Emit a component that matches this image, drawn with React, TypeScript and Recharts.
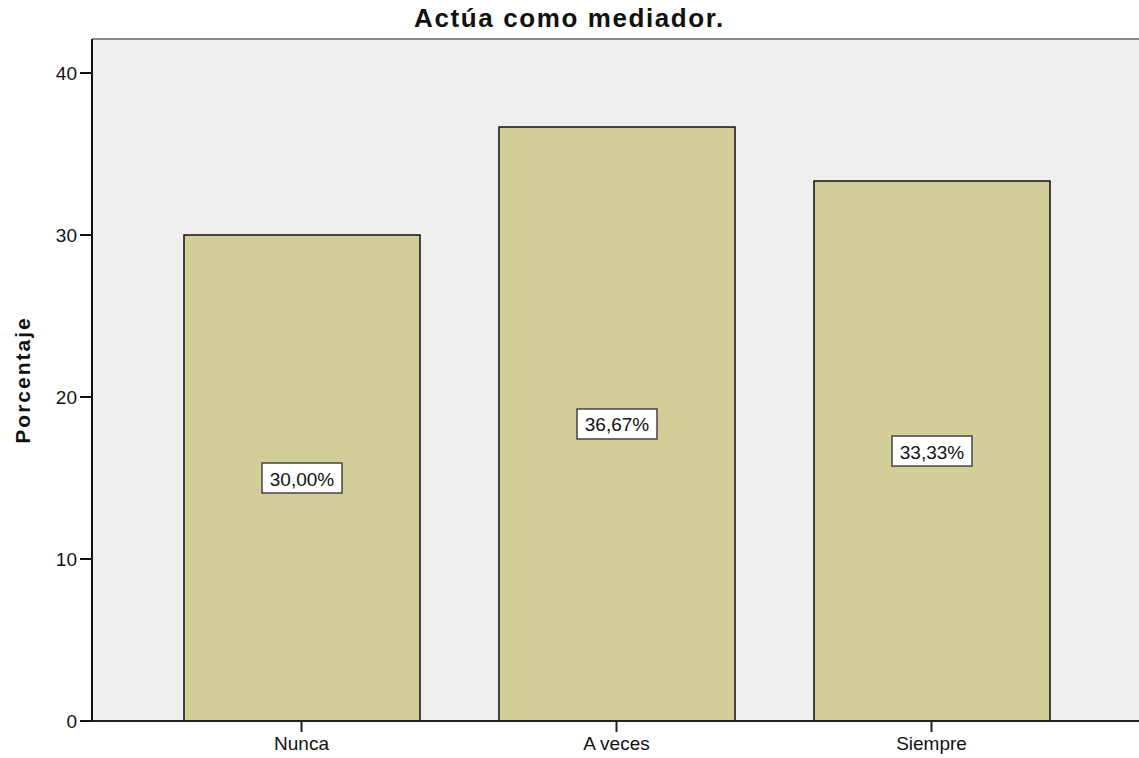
import React from 'react';
import { BarChart, Bar, XAxis, YAxis, CartesianGrid, LabelList, ReferenceLine } from 'recharts';

// Actúa como mediador. — percentages per answer
const categories = ['Nunca', 'A veces', 'Siempre'];
const percentages = [30.0, 36.67, 33.33];
const yTicks = [0, 10, 20, 30, 40];
const yMax = 42.1;

const FONT = '"Liberation Sans", Arial, sans-serif';

const data = categories.map((name, i) => ({ name, value: percentages[i] }));

const formatPct = (v: number) => v.toFixed(2).replace('.', ',') + '%';

const BoxLabel = (props: any) => {
  const vb = props.viewBox || props;
  const { x, y, width, height } = vb;
  const cx = x + width / 2;
  const cy = y + height / 2;
  const w = 80;
  const h = 30;
  return (
    <g>
      <rect x={cx - w / 2} y={cy - h / 2} width={w} height={h} fill="#fff" stroke="#444" strokeWidth={1.5} />
      <text x={cx} y={cy + 1} textAnchor="middle" dominantBaseline="central" fontSize={19} fontFamily={FONT} fill="#111">
        {formatPct(props.value)}
      </text>
    </g>
  );
};

export default function App() {
  return (
    <div style={{ position: 'absolute', left: 0, top: 0, width: 1139, height: 758, background: '#fff', fontFamily: FONT }}>
      <div
        style={{
          position: 'absolute', left: 0, top: 3, width: 1139, textAlign: 'center',
          fontSize: 26, fontWeight: 'bold', letterSpacing: 1.6, color: '#111',
        }}
      >
        Actúa como mediador.
      </div>
      <div
        style={{
          position: 'absolute', left: 23, top: 380, transform: 'translate(-50%, -50%) rotate(-90deg)',
          fontSize: 21, fontWeight: 'bold', letterSpacing: 2, color: '#111', whiteSpace: 'nowrap',
        }}
      >
        Porcentaje
      </div>
      <BarChart
        width={1139}
        height={758}
        data={data}
        margin={{ top: 39, right: 0, left: 0, bottom: 0 }}
        barSize={236}
      >
        <CartesianGrid fill="#efefef" horizontal={false} vertical={false} />
        <ReferenceLine y={yMax} stroke="#888" strokeWidth={2} />
        <XAxis
          dataKey="name"
          height={37}
          padding={{ left: 52, right: 50 }}
          tickSize={11}
          tickMargin={5}
          axisLine={{ stroke: '#222', strokeWidth: 2 }}
          tickLine={{ stroke: '#222', strokeWidth: 2 }}
          tick={{ fill: '#111', fontSize: 19, fontFamily: FONT }}
        />
        <YAxis
          width={92}
          domain={[0, yMax]}
          ticks={yTicks}
          tickSize={12}
          tickMargin={3}
          axisLine={{ stroke: '#111', strokeWidth: 2 }}
          tickLine={{ stroke: '#111', strokeWidth: 2 }}
          tick={{ fill: '#111', fontSize: 19, fontFamily: FONT }}
        />
        <Bar dataKey="value" fill="#d3cd98" stroke="#111" strokeWidth={1.5} isAnimationActive={false}>
          <LabelList dataKey="value" content={BoxLabel} />
        </Bar>
      </BarChart>
    </div>
  );
}
